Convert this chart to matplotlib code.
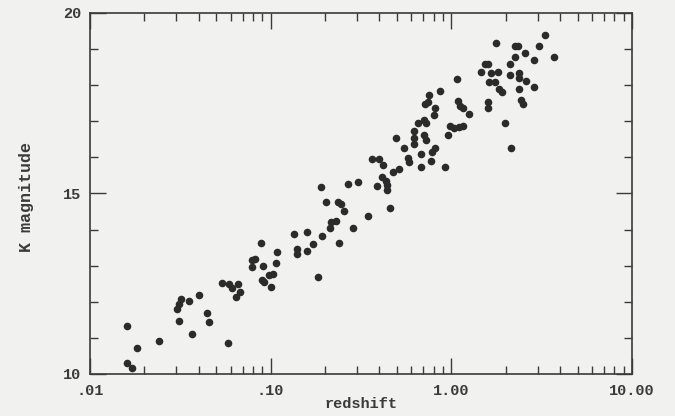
import numpy as np
import matplotlib
matplotlib.use('Agg')
import matplotlib.pyplot as plt
from matplotlib.ticker import LogLocator, FixedLocator, NullFormatter

# redshift / K magnitude
redshift = [0.0160, 0.0182, 0.0160, 0.0170, 0.0240, 0.0309, 0.0305, 0.0309, 0.0317, 0.0351,
            0.0399, 0.0369, 0.0447, 0.0458, 0.0541, 0.0583, 0.0591, 0.0614, 0.0662, 0.0679,
            0.0645, 0.0887, 0.0791, 0.0822, 0.0791, 0.0910, 0.0898, 0.0921, 0.0982, 0.1032,
            0.1006, 0.1072, 0.1086, 0.1347, 0.140, 0.140, 0.1589, 0.1589, 0.1714, 0.1923,
            0.1827, 0.2128, 0.2153, 0.2296, 0.2384, 0.1897, 0.2023, 0.2355, 0.2445, 0.2541,
            0.285, 0.3443, 0.2673, 0.3034, 0.3864, 0.4113, 0.4328, 0.4385, 0.4385, 0.4550,
            0.3626, 0.3961, 0.4169, 0.4732, 0.5105, 0.4914, 0.5445, 0.5723, 0.5794, 0.6180,
            0.6180, 0.6252, 0.6580, 0.7015, 0.7278, 0.7097, 0.7278, 0.6837, 0.6837, 0.7852,
            0.7762, 0.8166, 0.7568, 0.7194, 0.7464, 0.8166, 0.8054, 0.8690, 0.986, 1.040,
            1.107, 1.164, 0.9616, 0.9268, 1.079, 1.093, 1.122, 1.164, 1.257, 1.462,
            1.538, 1.600, 1.660, 1.816, 1.618, 1.746, 1.600, 1.600, 1.770, 1.837,
            1.910, 1.986, 2.142, 2.113, 2.113, 2.253, 2.339, 2.253, 2.371, 2.371,
            2.371, 2.432, 2.494, 2.559, 2.588, 2.866, 2.866, 3.055, 3.296, 3.690]
kmag = [11.33, 10.72, 10.30, 10.17, 10.91, 11.47, 11.80, 11.94, 12.08, 12.02,
        12.19, 11.11, 11.69, 11.44, 12.52, 10.86, 12.49, 12.38, 12.49, 12.27,
        12.13, 13.63, 13.16, 13.19, 12.96, 12.99, 12.60, 12.55, 12.74, 12.77,
        12.41, 13.07, 13.38, 13.88, 13.46, 13.32, 13.93, 13.41, 13.60, 13.82,
        12.69, 14.04, 14.21, 14.24, 13.63, 15.18, 14.76, 14.76, 14.71, 14.52,
        14.04, 14.38, 15.26, 15.32, 15.21, 15.46, 15.35, 15.24, 15.10, 14.60,
        15.96, 15.96, 15.79, 15.60, 15.68, 16.54, 16.26, 15.98, 15.87, 16.73,
        16.54, 16.37, 16.95, 17.04, 16.95, 16.62, 16.48, 16.09, 15.73, 16.15,
        15.90, 16.26, 17.73, 17.48, 17.53, 17.37, 17.17, 17.84, 16.87, 16.81,
        16.84, 16.87, 16.62, 15.73, 18.17, 17.56, 17.42, 17.37, 17.20, 18.37,
        18.59, 18.59, 18.34, 18.37, 18.09, 18.09, 17.53, 17.37, 19.17, 17.89,
        17.81, 16.95, 16.26, 18.59, 18.28, 19.09, 19.09, 18.78, 18.34, 18.20,
        17.89, 17.59, 17.48, 18.89, 18.12, 18.70, 17.95, 19.09, 19.39, 18.78]

xticks = [0.01, 0.1, 1.0, 10.0]
xticklabels = ['.01', '.10', '1.00', '10.00']
yticks = [10, 15, 20]

paper = '#f1f1ef'
ink = '#3a3a3a'

plt.rcParams['font.family'] = ['Liberation Mono', 'DejaVu Sans Mono']
fig = plt.figure(figsize=(6.75, 4.16), dpi=100, facecolor=paper)
ax = fig.add_axes([0.1333, 0.101, 0.8030, 0.8678], facecolor=paper)

ax.scatter(redshift, kmag, s=30, color='#2b2b2b', linewidths=0, zorder=3)

ax.set_xscale('log')
ax.set_xlim(0.01, 10)
ax.set_ylim(10, 20)

ax.xaxis.set_major_locator(FixedLocator(xticks))
ax.set_xticklabels(xticklabels)
ax.xaxis.set_minor_locator(LogLocator(base=10, subs=np.arange(2, 10)))
ax.xaxis.set_minor_formatter(NullFormatter())
ax.yaxis.set_major_locator(FixedLocator(yticks))
ax.yaxis.set_minor_locator(FixedLocator(range(10, 21)))

ax.tick_params(which='both', direction='in', top=True, right=True, color=ink, width=1.0,
               labelcolor=ink, labelsize=11)
ax.tick_params(which='major', length=11.5)
ax.tick_params(which='minor', length=5.5)
ax.tick_params(axis='x', pad=7)
ax.tick_params(axis='y', pad=6)
for lab in ax.get_xticklabels() + ax.get_yticklabels():
    lab.set_fontweight('bold')

for sp in ax.spines.values():
    sp.set_color(ink)
    sp.set_linewidth(1.2)

ax.set_xlabel('redshift', fontsize=11, fontweight='bold', color=ink)
ax.xaxis.set_label_coords(0.5, -0.064)
ax.set_ylabel('K magnitude', fontsize=12, fontweight='bold', color=ink)
ax.yaxis.set_label_coords(-0.104, 0.49)

fig.savefig('out.png', dpi=100, facecolor=paper)
